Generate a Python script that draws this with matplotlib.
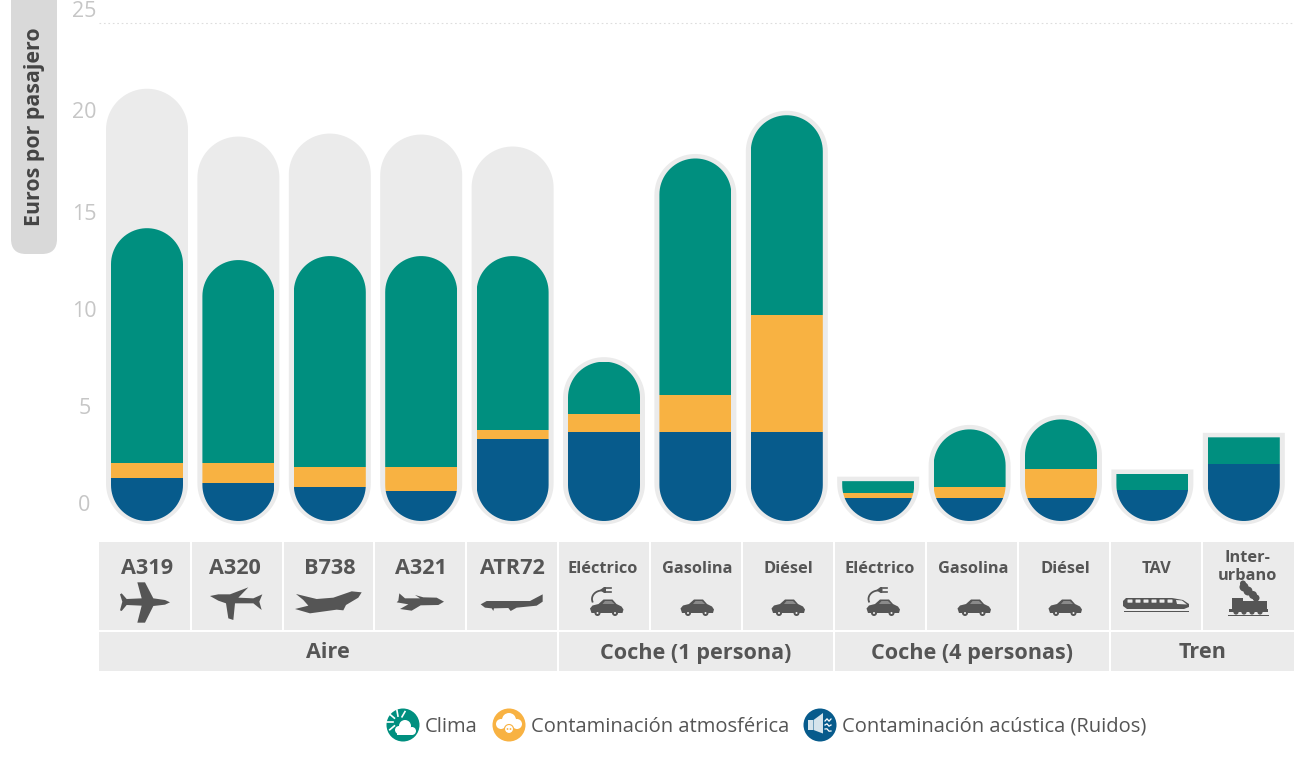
import numpy as np
import matplotlib
matplotlib.use("Agg")
import matplotlib.pyplot as plt
from matplotlib.patches import Circle, FancyBboxPatch, PathPatch, Polygon, Rectangle
from matplotlib.path import Path

plt.rcParams["font.family"] = ["Open Sans", "DejaVu Sans"]

# Values (euros per passenger)
models = ["A319", "A320", "B738", "A321", "ATR72", "Eléctrico", "Gasolina", "Diésel",
          "Eléctrico", "Gasolina", "Diésel", "TAV", "Inter-\nurbano"]
groups = ["Aire", "Coche (1 persona)", "Coche (4 personas)", "Tren"]
group_sizes = [5, 3, 3, 2]
noise = [2.15, 1.9, 1.7, 1.5, 4.1, 4.47, 4.47, 4.47, 1.15, 1.15, 1.15, 1.55, 2.85]
air_pollution = [0.75, 1.0, 1.0, 1.2, 0.45, 0.9, 1.85, 5.85, 0.25, 0.55, 1.45, 0.0, 0.0]
climate = [11.8, 10.2, 10.6, 10.6, 8.75, 2.63, 11.88, 10.05, 0.6, 2.9, 2.5, 0.81, 1.35]
upper_range = [21.7, 19.3, 19.45, 19.4, 18.8]
yticks = [0, 5, 10, 15, 20, 25]
legend_labels = ["Clima", "Contaminación atmosférica", "Contaminación acústica (Ruidos)"]

GREEN, ORANGE, BLUE = "#008f7f", "#f8b242", "#075b8c"
GREY, DARK = "#ebebeb", "#555555"
PX_X, PX_Y = 91.4, 19.92   # pixels per bar / per euro
FLAT_BELOW = 4.3           # short bars have a square top


def capsule(x, bottom, top, r_px, half_px, round_top=True):
    rx, ry = r_px / PX_X, r_px / PX_Y
    hw = half_px / PX_X
    t = np.linspace(np.pi, 2 * np.pi, 40)
    pts = list(zip(x + rx * np.cos(t), bottom + ry + ry * np.sin(t)))
    if round_top:
        t = np.linspace(0, np.pi, 40)
        pts += list(zip(x + rx * np.cos(t), top - ry + ry * np.sin(t)))
    else:
        pts += [(x + hw, top), (x - hw, top)]
    pts.append(pts[0])
    return Path(pts, closed=True)


fig = plt.figure(figsize=(13, 7.76), dpi=100)

# bar axes: y 25 sits at pixel 23.5, y 0 at pixel 521; first bar centre at pixel 147
ax = fig.add_axes([99 / 1300, 1 - 521 / 776, 1195 / 1300, 497.5 / 776])
ax.set_xlim((99 - 147) / PX_X, (1294 - 147) / PX_X)
ax.set_ylim(0, 497.5 / PX_Y)
ax.axis("off")

ax.plot(ax.get_xlim(), [25, 25], color="#dddddd", lw=0.8, ls=(0, (1.5, 2.5)), clip_on=False)

for i in range(len(models)):
    total = noise[i] + air_pollution[i] + climate[i]
    rounded = total > FLAT_BELOW
    top_out = upper_range[i] if i < len(upper_range) else total + 4.5 / PX_Y
    outer = capsule(i, -3.5 / PX_Y, top_out, 41, 41, rounded)
    ax.add_patch(PathPatch(outer, fc=GREY, ec="none", zorder=1, clip_on=False))
    inner = capsule(i, 0, total, 36, 36, rounded)
    bottom = 0
    for vals, col in [(noise, BLUE), (air_pollution, ORANGE), (climate, GREEN)]:
        if vals[i] > 0:
            bar = ax.bar(i, vals[i], bottom=bottom, width=72 / PX_X, color=col, zorder=2)[0]
            bar.set_clip_path(inner, ax.transData)
        bottom += vals[i]

# everything below and beside the bars is laid out in pixels
ov = fig.add_axes([0, 0, 1, 1])
ov.set_xlim(0, 1300)
ov.set_ylim(776, 0)
ov.axis("off")
ov.patch.set_alpha(0)

# y tick labels sit above their lines, not evenly
tick_offsets = [15.5, 13, 10.5, 8, 10.5, 11]
for v, off in zip(yticks, tick_offsets):
    y = ov.transData.inverted().transform(ax.transData.transform((0, v)))[1]
    ov.text(84.5, y - off, str(v), ha="center", va="center", fontsize=15.5, color="#c6c6c6")

# y axis pill, only the lower corners show
ov.add_patch(FancyBboxPatch((11, -40), 46, 294, boxstyle="round,pad=0,rounding_size=15",
                            fc="#d9d9d9", ec="none", clip_on=True))
ov.text(35, 127, "Euros por pasajero", rotation=90, ha="center", va="center",
        fontsize=15.4, fontweight="bold", color="#444444")

# table under the bars
cell_edges = [99, 192, 283.5, 375, 467, 559, 651, 743, 835, 927, 1019, 1111, 1203, 1296]
label_nudge = [2.5, -2, 1.5, 1, 0, -1, 1, 0, 0, 1, 1, 0, -1]
for i, name in enumerate(models):
    x0, x1 = cell_edges[i], cell_edges[i + 1] - 2
    ov.add_patch(Rectangle((x0, 542), x1 - x0, 88, fc=GREY, ec="none"))
    big = i < 5
    y = 568 if big else (569 if "\n" not in name else 567)
    ov.text((x0 + x1) / 2 + label_nudge[i], y, name, ha="center", va="center",
            fontsize=15.6 if big else 11.8, fontweight="bold", color=DARK, linespacing=1.12)
k = 0
for name, n in zip(groups, group_sizes):
    x0, x1 = cell_edges[k], cell_edges[k + n] - 2
    ov.add_patch(Rectangle((x0, 632), x1 - x0, 39, fc=GREY, ec="none"))
    ov.text((x0 + x1) / 2, 653, name, ha="center", va="center", fontsize=15.6,
            fontweight="bold", color=DARK)
    k += n


def zoom_poly(pts, color=DARK):
    pts = [(px / 3 + 90, py / 3 + 535) for px, py in pts]
    ov.add_patch(Polygon(pts, closed=True, fc=color, ec="none"))


zoom_poly([(240, 202), (225, 195), (190, 190), (165, 142), (142, 142), (155, 190), (110, 192),
           (95, 175), (90, 178), (97, 200), (90, 226), (95, 228), (110, 210), (155, 212),
           (142, 263), (165, 263), (190, 213), (225, 209)])
zoom_poly([(360, 183), (385, 178), (420, 178), (475, 157), (445, 188), (490, 190), (517, 178),
           (508, 200), (515, 225), (490, 205), (435, 205), (430, 255), (415, 250), (408, 205),
           (385, 197)])
zoom_poly([(815, 172), (785, 169), (730, 188), (680, 192), (618, 177), (640, 195), (655, 212),
           (615, 222), (660, 235), (740, 224), (760, 226), (768, 210), (805, 188)])
zoom_poly([(1062, 200), (1040, 188), (1000, 187), (975, 180), (990, 190), (945, 190), (928, 175),
           (925, 197), (920, 202), (955, 208), (930, 222), (965, 227), (992, 211), (1045, 210)])
zoom_poly([(1172, 208), (1190, 198), (1320, 198), (1358, 178), (1358, 200), (1340, 212),
           (1280, 218), (1262, 228), (1255, 219), (1212, 220), (1210, 228), (1205, 220),
           (1185, 218)])


def car(cx, cy):
    body = [(-16.5, 1), (-14, -2), (-8, -3.5), (-3, -8), (6, -8), (10, -3.5), (15, -1), (17, 2),
            (16, 5.5), (-15, 5.5)]
    ov.add_patch(Polygon([(cx + a, cy + b) for a, b in body], fc=DARK, ec="none"))
    for a in (-9, 8.5):
        ov.add_patch(Circle((cx + a, cy + 5.5), 3, fc=DARK, ec="none"))
        ov.add_patch(Circle((cx + a, cy + 5.5), 1, fc=GREY, ec="none"))
    win = [(-4, -3.5), (-1.5, -6.5), (5, -6.5), (8, -3.5)]
    ov.add_patch(Polygon([(cx + a, cy + b) for a, b in win], fc="#8a8a8a", ec="none"))


def plug(cx, cy):
    # cable curls from the car roof up to the plug body
    t = np.linspace(np.pi * 0.5, np.pi * 1.1, 20)
    ov.plot(cx - 1 + 10 * np.cos(t), cy + 9 - 8.5 * np.sin(t), color=DARK, lw=1.3)
    ov.add_patch(Polygon([(cx - 3, cy), (cx + 1, cy - 3), (cx + 3, cy - 3), (cx + 3, cy + 3),
                          (cx + 1, cy + 3)], fc=DARK, ec="none"))
    for dy in (-1.7, 1.7):
        ov.plot([cx + 3, cx + 7.5], [cy + dy, cy + dy], color=DARK, lw=1.2)


for cx in (606.5, 697, 788, 883, 974, 1065):
    car(cx, 607.5)
for cx in (606.5, 883):
    plug(cx - 3.5, 590)

# train
ov.add_patch(Polygon([(1126, 598), (1172, 598), (1183, 600), (1189, 604), (1189, 607), (1184, 609),
                      (1127, 609), (1123, 606), (1123, 601)], fc=DARK, ec="none"))
for a in range(1127, 1172, 8):
    ov.add_patch(FancyBboxPatch((a + 1, 600), 4, 2.2, boxstyle="round,pad=0.5", fc=GREY, ec="none"))
ov.add_patch(Polygon([(1176, 600), (1182, 600.5), (1187, 604.5), (1177, 604)], fc=GREY, ec="none"))
ov.add_patch(Rectangle((1124, 610.5), 65, 1.2, fc=DARK, ec="none"))

# steam engine
ov.add_patch(Rectangle((1232, 598), 11, 13, fc=DARK, ec="none"))
ov.add_patch(Rectangle((1243, 600.5), 24, 8, fc=DARK, ec="none"))
ov.add_patch(Rectangle((1229, 609), 39, 2.5, fc=DARK, ec="none"))
ov.add_patch(Rectangle((1228, 614.5), 41, 1.3, fc=DARK, ec="none"))
for a in (1236, 1244, 1252, 1260):
    ov.add_patch(Circle((a, 612), 2.6, fc=DARK, ec="none"))
for c, r in [((1244, 587), 4.5), ((1248, 591), 4.5), ((1253, 595), 4), ((1256, 598), 3.5),
             ((1243, 583.5), 3)]:
    ov.add_patch(Circle(c, r, fc=DARK, ec="none"))

# legend
icon_x = [403, 509, 820]
text_x = [425, 531, 842]
for cx, tx, col, label in zip(icon_x, text_x, [GREEN, ORANGE, BLUE], legend_labels):
    ov.add_patch(Circle((cx, 725), 16.5, fc=col, ec="none"))
    ov.text(tx, 726.5, label, ha="left", va="center", fontsize=14.5, color=DARK, fontweight="medium")
# sun and cloud
for ang in np.radians([100, 140, 180, 220, 60]):
    ov.plot([399 + 6 * np.cos(ang), 399 + 12 * np.cos(ang)], [722 - 6 * np.sin(ang), 722 - 12 * np.sin(ang)],
            color="white", lw=1.2)
for c, r in [((399, 730), 4), ((405, 726), 6), ((412, 731), 4)]:
    ov.add_patch(Circle(c, r, fc="white", ec="none"))
ov.add_patch(Rectangle((397, 729), 15, 6, fc="white", ec="none"))
# smog and skull
for c, r in [((501, 724), 5), ((509, 720), 7), ((517, 724), 5)]:
    ov.add_patch(Circle(c, r, fc="white", ec="none"))
ov.add_patch(Circle((509, 729), 4.5, fc="white", ec=ORANGE, lw=0.8))
ov.add_patch(Circle((507.5, 729), 0.9, fc=ORANGE, ec="none"))
ov.add_patch(Circle((510.5, 729), 0.9, fc=ORANGE, ec="none"))
# speaker
ov.add_patch(Rectangle((808, 720), 4.5, 10, fc="#d5e4ec", ec="none"))
ov.add_patch(Polygon([(813.5, 720), (823, 713), (823, 733.5), (813.5, 730)], fc="#d5e4ec", ec="none"))
for dy in (-5, 0, 5):
    ov.plot([825, 827, 829, 831], [725 + dy - 0.2 * dy, 725 + dy - 1.2, 725 + dy + 1.2, 725 + 1.2 * dy],
            color="white", lw=0.9)

fig.savefig("out.png", dpi=100)
